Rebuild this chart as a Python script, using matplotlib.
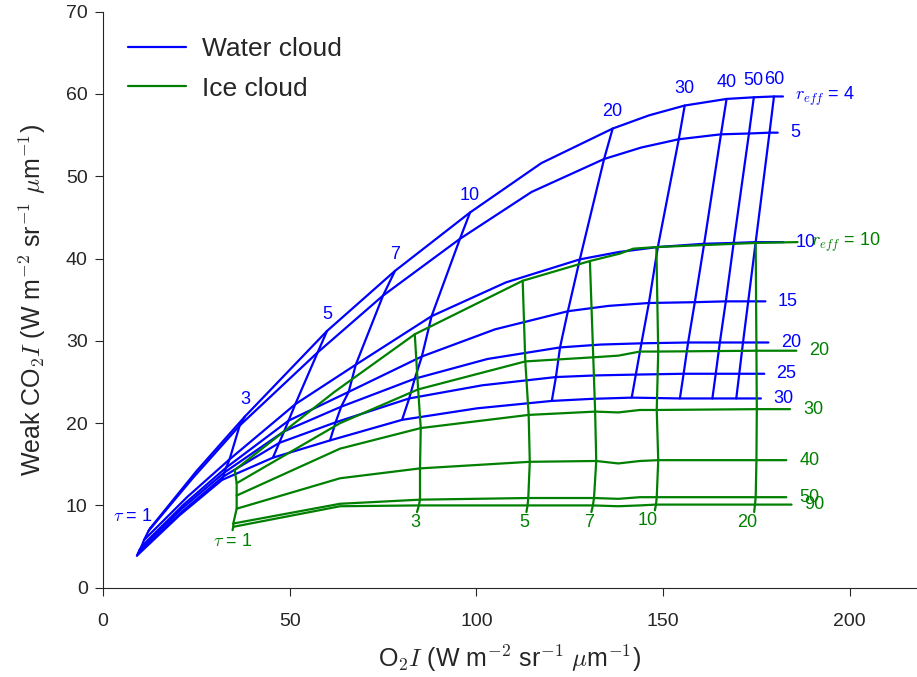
import numpy as np
import matplotlib
matplotlib.use('Agg')
import matplotlib.pyplot as plt
import seaborn as sns

# water cloud look-up table, rows = r_eff, columns = tau
water_reff = [4, 5, 10, 15, 20, 25, 30]
water_tau = [1, 2, 3, 5, 7, 10, 15, 20, 25, 30, 40, 50, 60, 80]
water_tau_lab = [1, 3, 5, 7, 10, 20, 30, 40, 50, 60]
water_o2 = [
    [12.6, 25.1, 38.0, 60.0, 78.2, 98.3, 117.4, 136.5, 146.2, 155.8, 167.0, 174.3, 179.7, 182.1],
    [12.2, 24.2, 36.6, 57.5, 75.0, 95.6, 114.8, 134.2, 144.2, 154.2, 165.5, 173.0, 178.5, 180.7],
    [11.0, 22.5, 33.9, 51.5, 67.7, 88.0, 107.9, 127.7, 138.2, 148.6, 161.0, 168.9, 174.8, 182.3],
    [10.3, 21.6, 33.0, 49.7, 65.8, 85.4, 105.0, 124.5, 135.4, 146.2, 158.5, 166.8, 172.8, 177.4],
    [9.8, 21.1, 32.5, 48.5, 63.8, 83.5, 103.0, 122.4, 133.3, 144.2, 156.7, 165.2, 171.4, 178.2],
    [9.4, 20.8, 32.2, 47.2, 62.3, 82.0, 101.6, 121.3, 132.0, 142.7, 155.5, 164.1, 170.4, 177.1],
    [9.1, 20.5, 31.9, 45.5, 60.8, 80.1, 100.2, 120.2, 130.9, 141.6, 154.5, 163.2, 169.6, 176.2],
]
water_co2 = [
    [7.2, 14.2, 20.8, 31.2, 38.5, 45.6, 51.6, 55.8, 57.4, 58.6, 59.4, 59.6, 59.7, 59.7],
    [6.9, 13.4, 19.7, 28.6, 35.5, 42.4, 48.1, 52.1, 53.5, 54.5, 55.1, 55.2, 55.3, 55.3],
    [5.8, 11.0, 15.6, 22.3, 27.1, 33.0, 37.1, 39.9, 40.8, 41.4, 41.8, 41.9, 42.0, 42.0],
    [5.0, 10.1, 14.6, 20.3, 23.8, 28.1, 31.4, 33.6, 34.25, 34.6, 34.7, 34.8, 34.8, 34.8],
    [4.6, 9.6, 14.0, 19.0, 22.0, 25.4, 27.8, 29.2, 29.55, 29.7, 29.8, 29.8, 29.8, 29.8],
    [4.2, 9.1, 13.5, 17.6, 20.1, 23.0, 24.6, 25.6, 25.8, 25.9, 26.0, 26.0, 26.0, 26.0],
    [3.9, 8.8, 13.1, 15.8, 17.9, 20.4, 21.8, 22.7, 22.95, 23.1, 23.0, 23.0, 23.0, 23.0],
]

# ice cloud look-up table (last row only closes the tau lines)
ice_reff = [10, 20, 30, 40, 50, 90]
ice_tau = [1, 2, 3, 5, 7, 8, 9, 10, 20, 30]
ice_tau_lab = [1, 3, 5, 7, 10, 20]
nan = np.nan
ice_o2 = [
    [35.3, 62.0, 83.5, 112.4, 130.4, 138.4, 142.0, 148.2, 174.8, 186.0],
    [35.8, 63.5, 84.4, 113.1, 131.3, 138.0, 143.8, 148.7, 175.0, 185.7],
    [35.8, 63.5, 85.1, 114.0, 131.8, 138.0, 143.8, 148.3, 175.1, 184.0],
    [35.8, 63.5, 84.9, 114.3, 132.1, 138.0, 143.8, 148.7, 175.0, 183.0],
    [34.9, 63.5, 84.9, 113.9, 131.5, 138.0, 143.8, 148.3, 174.8, 183.0],
    [34.9, 63.5, 84.6, 113.7, 131.2, 138.0, 143.8, 148.1, 174.6, 184.4],
    [34.7, nan, 84.1, 113.4, 130.8, nan, nan, 147.8, 174.4, nan],
]
ice_co2 = [
    [14.3, 23.8, 30.8, 37.3, 39.7, 40.6, 41.2, 41.4, 41.9, 42.0],
    [12.7, 20.0, 24.1, 27.5, 28.0, 28.2, 28.7, 28.7, 28.8, 28.8],
    [11.2, 16.9, 19.4, 21.0, 21.4, 21.3, 21.6, 21.6, 21.7, 21.7],
    [9.6, 13.3, 14.5, 15.3, 15.4, 15.1, 15.4, 15.5, 15.5, 15.5],
    [7.8, 10.2, 10.7, 10.9, 10.9, 10.8, 11.0, 11.0, 11.0, 11.0],
    [7.4, 9.9, 10.0, 10.0, 10.0, 9.9, 10.0, 10.1, 10.1, 10.1],
    [7.0, nan, 9.2, 9.2, 9.2, nan, nan, 9.4, 9.2, nan],
]

sns.set_style('ticks')
plt.rcParams['font.family'] = ['Liberation Sans', 'DejaVu Sans']
plt.rcParams['mathtext.fontset'] = 'cm'

wx, wy = np.array(water_o2), np.array(water_co2)
ix, iy = np.array(ice_o2), np.array(ice_co2)

fig = plt.figure(figsize=(9.17, 6.77), dpi=100)
ax = fig.add_axes([0.1123, 0.1319, 0.8877, 0.8508])

lw = 1.6
fs = 13

# water: constant r_eff curves
for i, r in enumerate(water_reff):
    ax.plot(wx[i], wy[i], color='b', lw=lw, label='Water cloud' if i == 0 else None)
    lab = r'$r_{eff}$ = %d' % r if i == 0 else str(r)
    ax.text(wx[i, -1] + 3.3, wy[i, -1], lab, color='b', fontsize=fs,
            ha='left', va='center')

# water: constant tau lines
for j, t in enumerate(water_tau):
    if t not in water_tau_lab:
        continue
    ax.plot(wx[:, j], wy[:, j], color='b', lw=lw)
    if t == 1:
        ax.text(wx[0, j] + 0.8, wy[0, j] + 0.4, r'$\tau$ = 1', color='b',
                fontsize=fs, ha='right', va='bottom')
    else:
        ax.text(wx[0, j], wy[0, j] + 1.0, str(t), color='b', fontsize=fs,
                ha='center', va='bottom')

# ice: constant r_eff curves
for i, r in enumerate(ice_reff):
    ax.plot(ix[i], iy[i], color='g', lw=lw, label='Ice cloud' if i == 0 else None)
    lab = r'$r_{eff}$ = %d' % r if i == 0 else str(r)
    ax.text(ix[i, -1] + 3.5, iy[i, -1], lab, color='g', fontsize=fs,
            ha='left', va='center')

# ice: constant tau lines
for j, t in enumerate(ice_tau):
    if t not in ice_tau_lab:
        continue
    ok = ~np.isnan(ix[:, j])
    ax.plot(ix[ok, j], iy[ok, j], color='g', lw=lw)
    if t == 1:
        ax.text(ix[-1, j], iy[-1, j] - 0.3, r'$\tau$ = 1', color='g',
                fontsize=fs, ha='center', va='top')
    else:
        ax.text(ix[-1, j] + 0.8, iy[-1, j] - 0.2, str(t), color='g',
                fontsize=fs, ha='right', va='top')

ax.set_xlim(0, 218)
ax.set_ylim(0, 70)
ax.set_xticks([0, 50, 100, 150, 200])
ax.set_xlabel(r'O$_2 I$ (W m$^{-2}$ sr$^{-1}$ $\mu$m$^{-1}$)', fontsize=18, labelpad=10)
ax.set_ylabel(r'Weak CO$_2 I$ (W m$^{-2}$ sr$^{-1}$ $\mu$m$^{-1}$)', fontsize=18, labelpad=13)
ax.tick_params(labelsize=14, length=6)
ax.tick_params(axis='x', pad=12)
ax.tick_params(axis='y', pad=5)
ax.legend(loc='upper left', fontsize=19, frameon=False, handlelength=2.2,
          handletextpad=0.6, borderaxespad=0.55, labelspacing=0.6)
sns.despine(ax=ax)

fig.savefig('out.png', dpi=100)
